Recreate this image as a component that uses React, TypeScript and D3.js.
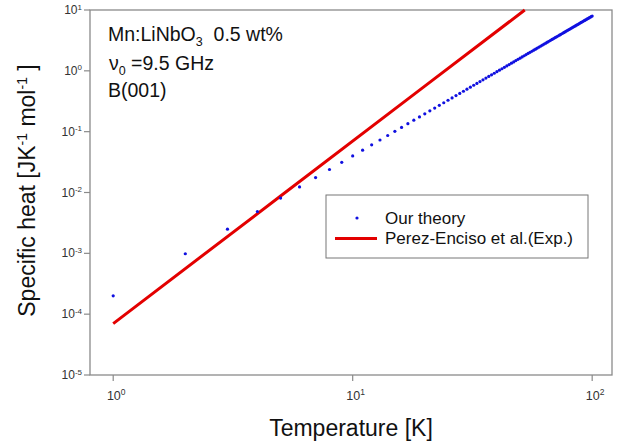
import * as d3 from 'd3';

const W = 621, H = 448;

// Our theory: one point per kelvin, 1..100 K
const theoryT = [
  1, 2, 3, 4, 5, 6, 7, 8, 9, 10,
  11, 12, 13, 14, 15, 16, 17, 18, 19, 20,
  21, 22, 23, 24, 25, 26, 27, 28, 29, 30,
  31, 32, 33, 34, 35, 36, 37, 38, 39, 40,
  41, 42, 43, 44, 45, 46, 47, 48, 49, 50,
  51, 52, 53, 54, 55, 56, 57, 58, 59, 60,
  61, 62, 63, 64, 65, 66, 67, 68, 69, 70,
  71, 72, 73, 74, 75, 76, 77, 78, 79, 80,
  81, 82, 83, 84, 85, 86, 87, 88, 89, 90,
  91, 92, 93, 94, 95, 96, 97, 98, 99, 100,
];
const theoryC = [
  2.00e-4, 9.85e-4, 2.50e-3, 4.85e-3, 8.10e-3, 0.01233, 0.01757, 0.02388, 0.03131, 0.0399,
  0.0497, 0.0607, 0.0729, 0.0865, 0.1014, 0.1176, 0.1352, 0.1542, 0.1746, 0.1965,
  0.2198, 0.2446, 0.2710, 0.2989, 0.3283, 0.3593, 0.3918, 0.4260, 0.4618, 0.4992,
  0.5383, 0.5791, 0.6216, 0.6658, 0.7116, 0.7595, 0.8089, 0.8601, 0.9130, 0.9677,
  1.024, 1.083, 1.143, 1.205, 1.269, 1.335, 1.403, 1.472, 1.543, 1.617,
  1.692, 1.769, 1.848, 1.930, 2.013, 2.098, 2.185, 2.274, 2.366, 2.459,
  2.555, 2.652, 2.751, 2.852, 2.956, 3.062, 3.169, 3.279, 3.391, 3.505,
  3.621, 3.740, 3.860, 3.983, 4.108, 4.235, 4.364, 4.496, 4.630, 4.765,
  4.903, 5.043, 5.186, 5.331, 5.478, 5.627, 5.779, 5.932, 6.089, 6.247,
  6.408, 6.572, 6.737, 6.905, 7.075, 7.248, 7.422, 7.600, 7.779, 7.962,
];

// Perez-Enciso et al. (Exp.) – straight line on log-log axes
const expT = [1, 5, 20, 52.3];
const expC = [7.0e-5, 8.75e-3, 0.56, 10];

const xTicks = [1, 10, 100];
const xTickExp = ['0', '1', '2'];
const yTicks = [1e-5, 1e-4, 1e-3, 1e-2, 1e-1, 1, 10];
const yTickExp = ['-5', '-4', '-3', '-2', '-1', '0', '1'];

const font = 'Liberation Sans, Arial, Helvetica, sans-serif';
const frame = '#8a8a8a';
const labelColor = '#333';

export default function App() {
  const left = 90, right = 612, top = 10, bottom = 375;
  const x = d3.scaleLog().domain([0.8, 121]).range([left, right]);
  const y = d3.scaleLog().domain([1e-5, 10]).range([bottom, top]);

  const line = d3.line<number>()
    .x((_, i) => x(expT[i]))
    .y((d) => y(d));

  return (
    <svg width={W} height={H} style={{ position: 'absolute', left: 0, top: 0, background: '#fff' }}
      fontFamily={font}>
      {/* frame */}
      <rect x={left} y={top} width={right - left} height={bottom - top}
        fill="none" stroke={frame} strokeWidth={1.3} />

      {/* y ticks */}
      {yTicks.map((t, i) => (
        <g key={'y' + i}>
          <line x1={left - 6} x2={left} y1={y(t)} y2={y(t)} stroke={frame} strokeWidth={1.2} />
          <text x={left - 8} y={y(t) + 4} textAnchor="end" fontSize={12} fill={labelColor}>
            10<tspan dy={-4.5} fontSize={8}>{yTickExp[i]}</tspan>
          </text>
        </g>
      ))}

      {/* x ticks */}
      {xTicks.map((t, i) => (
        <g key={'x' + i}>
          <line x1={x(t)} x2={x(t)} y1={bottom} y2={bottom + 6} stroke={frame} strokeWidth={1.2} />
          <text x={x(t) + 3} y={400} textAnchor="middle" fontSize={12.5} fill={labelColor}>
            10<tspan dy={-5} fontSize={8.5}>{xTickExp[i]}</tspan>
          </text>
        </g>
      ))}

      {/* experimental line */}
      <path d={line(expC) ?? ''} fill="none" stroke="#e30000" strokeWidth={3} />

      {/* theory points */}
      {theoryC.map((c, i) => (
        <circle key={'p' + i} cx={x(theoryT[i])} cy={y(c)} r={1.6} fill="#1010e0" />
      ))}

      {/* annotation */}
      <g fontSize={19.5} fill="#111">
        <text x={108} y={41}>
          Mn:LiNbO<tspan dy={5} fontSize={12.5}>3</tspan><tspan dy={-5}>{'\u00a0\u00a00.5 wt%'}</tspan>
        </text>
        <text x={109} y={70}>
          ν<tspan dy={5} fontSize={12.5}>0</tspan><tspan dy={-5}>{'\u00a0=9.5 GHz'}</tspan>
        </text>
        <text x={108} y={97}>B(001)</text>
      </g>

      {/* legend */}
      <rect x={326} y={195} width={262} height={63} fill="#fff" stroke="#777" strokeWidth={1} />
      <circle cx={357} cy={218} r={1.6} fill="#1010e0" />
      <text x={385} y={224} fontSize={17} fill="#111">Our theory</text>
      <line x1={335} x2={377} y1={238.5} y2={238.5} stroke="#e30000" strokeWidth={3} />
      <text x={385} y={244} fontSize={17} fill="#111">Perez-Enciso et al.(Exp.)</text>

      {/* axis titles */}
      <text x={(left + right) / 2} y={436} textAnchor="middle" fontSize={23} fill="#111">
        Temperature [K]
      </text>
      <text transform={`translate(35, ${(top + bottom) / 2 - 2}) rotate(-90)`} textAnchor="middle"
        fontSize={23} fill="#111">
        Specific heat [JK<tspan dy={-8} fontSize={14}>-1</tspan><tspan dy={8}>{'\u00a0mol'}</tspan>
        <tspan dy={-8} fontSize={14}>-1</tspan><tspan dy={8}>{'\u00a0]'}</tspan>
      </text>
    </svg>
  );
}
